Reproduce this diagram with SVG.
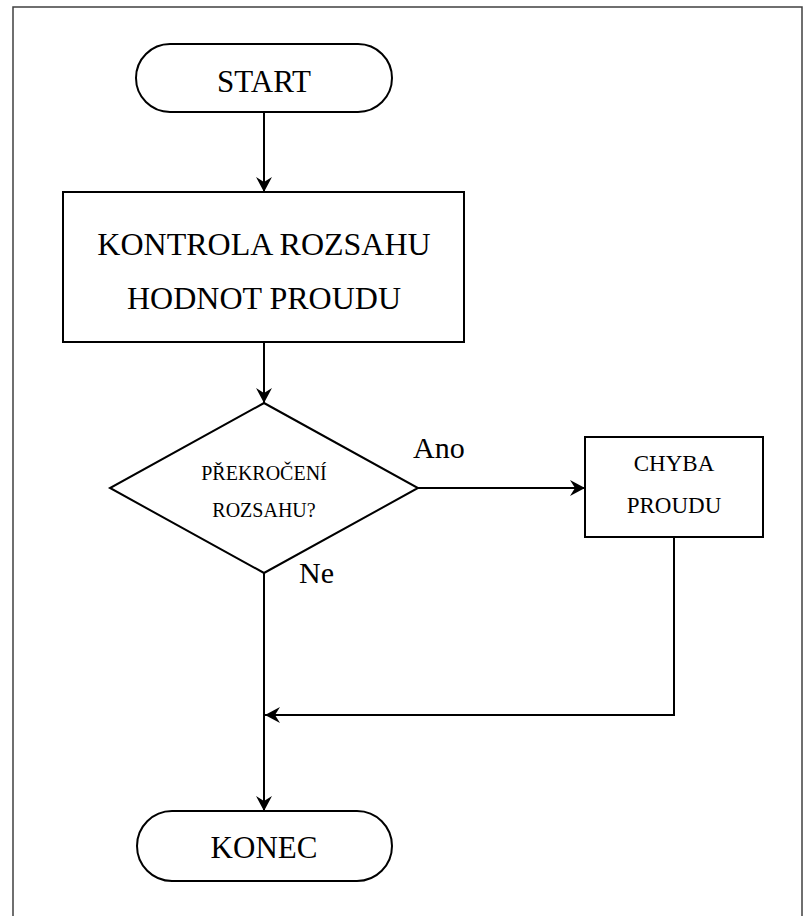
<svg xmlns="http://www.w3.org/2000/svg" width="803" height="916" viewBox="0 0 803 916">
  <style>
    .shape { fill: #ffffff; stroke: #000000; stroke-width: 2; }
    .wire { fill: none; stroke: #000000; stroke-width: 2; }
    text { font-family: 'Liberation Serif', 'DejaVu Serif', serif; fill: #000000; }
    .lbl { text-anchor: middle; }
    .side { font-size: 30px; }
  </style>
  <defs>
    <marker id="arrow" viewBox="-16 -9 17 18" markerWidth="17" markerHeight="18" refX="0" refY="0" orient="auto" markerUnits="userSpaceOnUse">
      <path d="M0,0 L-15,-8 L-10,0 L-15,8 Z" fill="#000000"/>
    </marker>
  </defs>

  <rect x="0" y="0" width="803" height="916" fill="#ffffff"/>
  <!-- page frame (open at the bottom) -->
  <path d="M13,916 V7 H802 V916" fill="none" stroke="#404040" stroke-width="1.5"/>

  <g id="connectors">
    <path class="wire" d="M264,112 V192" marker-end="url(#arrow)"/>
    <path class="wire" d="M264,342 V403" marker-end="url(#arrow)"/>
    <path class="wire" d="M418,488 H585" marker-end="url(#arrow)"/>
    <path class="wire" d="M264,573 V811" marker-end="url(#arrow)"/>
    <path class="wire" d="M674,537 V715 H265" marker-end="url(#arrow)"/>
    <text class="side" x="413" y="458" font-family="Liberation Serif, serif">Ano</text>
    <text class="side" x="299" y="583" font-family="Liberation Serif, serif">Ne</text>
  </g>

  <g id="start">
    <rect class="shape" x="136" y="44" width="256" height="68" rx="34" ry="34"/>
    <text class="lbl" x="264" y="92" font-size="31" font-family="Liberation Serif, serif">START</text>
  </g>

  <g id="kontrola">
    <rect class="shape" x="63" y="192" width="401" height="150"/>
    <text class="lbl" x="264" y="255" font-size="32" font-family="Liberation Serif, serif">KONTROLA ROZSAHU</text>
    <text class="lbl" x="264" y="309" font-size="32" font-family="Liberation Serif, serif">HODNOT PROUDU</text>
  </g>

  <g id="prekroceni">
    <polygon class="shape" points="264,403 418,488 264,573 110,488"/>
    <text class="lbl" x="264" y="480" font-size="20" font-family="Liberation Serif, serif">PŘEKROČENÍ</text>
    <text class="lbl" x="264" y="517" font-size="20" font-family="Liberation Serif, serif">ROZSAHU?</text>
  </g>

  <g id="chyba">
    <rect class="shape" x="585" y="437" width="178" height="100"/>
    <text class="lbl" x="674" y="471" font-size="23" font-family="Liberation Serif, serif">CHYBA</text>
    <text class="lbl" x="674" y="513" font-size="23" font-family="Liberation Serif, serif">PROUDU</text>
  </g>

  <g id="konec">
    <rect class="shape" x="137" y="811" width="255" height="70" rx="35" ry="35"/>
    <text class="lbl" x="264" y="858" font-size="31" font-family="Liberation Serif, serif">KONEC</text>
  </g>
</svg>
